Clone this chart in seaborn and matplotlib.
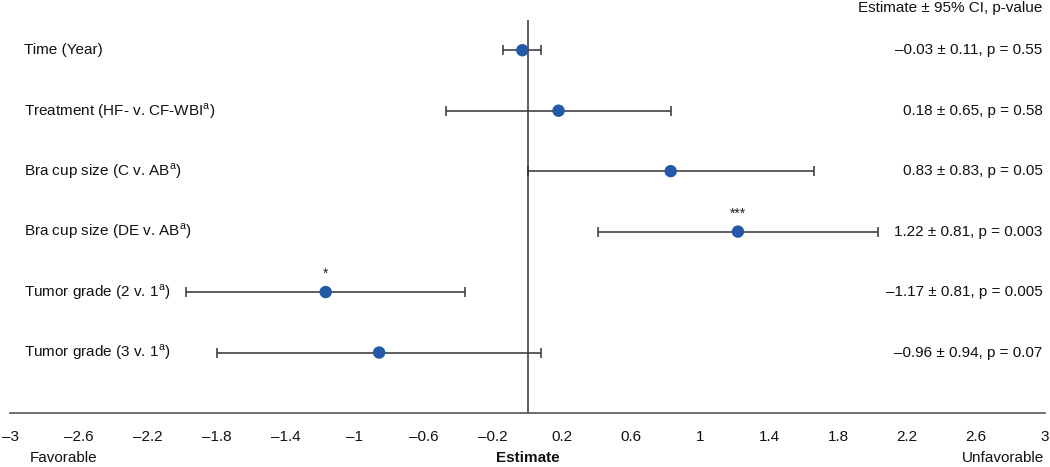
import numpy as np
import matplotlib
matplotlib.use("Agg")
import matplotlib.pyplot as plt
import matplotlib.transforms as mtransforms
import pandas as pd
import seaborn as sns

# row labels (top to bottom)
labels = [
    "Time (Year)",
    "Treatment (HF- v. CF-WBI$^\\mathregular{a}$)",
    "Bra cup size (C v. AB$^\\mathregular{a}$)",
    "Bra cup size (DE v. AB$^\\mathregular{a}$)",
    "Tumor grade (2 v. 1$^\\mathregular{a}$)",
    "Tumor grade (3 v. 1$^\\mathregular{a}$)",
]
# estimates and 95% CI half-widths as drawn
estimates = [-0.03, 0.18, 0.83, 1.22, -1.17, -0.86]
ci_half = [0.11, 0.65, 0.83, 0.81, 0.81, 0.94]
# right-hand annotation text
summary = [
    "–0.03 ± 0.11, p = 0.55",
    "0.18 ± 0.65, p = 0.58",
    "0.83 ± 0.83, p = 0.05",
    "1.22 ± 0.81, p = 0.003",
    "–1.17 ± 0.81, p = 0.005",
    "–0.96 ± 0.94, p = 0.07",
]
stars = ["", "", "", "***", "*", ""]
xticks = np.round(np.arange(-3, 3.01, 0.4), 1)

df = pd.DataFrame({"label": labels, "estimate": estimates, "ci": ci_half,
                   "row": np.arange(len(labels))})

sns.set_theme(style="white")
plt.rcParams["font.family"] = ["Liberation Sans", "DejaVu Sans"]
plt.rcParams["font.size"] = 11

fig = plt.figure(figsize=(10.5, 4.67), dpi=100)
ax = fig.add_axes([10 / 1050, 54 / 467, 1035 / 1050, 393 / 467])

dark = "#333333"
blue = "#2459a8"

ax.errorbar(df["estimate"], df["row"], xerr=df["ci"], fmt="none",
            ecolor=dark, elinewidth=1.1, capsize=3.5, capthick=1.1, zorder=2)
sns.scatterplot(data=df, x="estimate", y="row", ax=ax, color=blue, s=80,
                edgecolor="none", zorder=3, legend=False)
ax.axvline(0, color="#444444", lw=1.2, zorder=1)

for i, s in enumerate(stars):
    if s:
        ax.text(estimates[i], i - 0.3, s, ha="center", va="center", fontsize=10, color="#222222")

lt = mtransforms.blended_transform_factory(ax.transAxes, ax.transData)
for i, lab in enumerate(labels):
    ax.text(0.0135, i, lab, transform=lt, ha="left", va="center", fontsize=11, color="#111111")
    ax.text(0.9975, i, summary[i], transform=lt, ha="right", va="center", fontsize=11, color="#111111")

ax.set_xlim(-3, 3)
ax.set_ylim(6, -0.5)
ax.set_xticks(xticks)
ax.set_xticklabels([f"{v:g}".replace("-", "–") for v in xticks], fontsize=11, color="#111111")
ax.set_yticks([])
ax.set_xlabel("")
ax.set_ylabel("")
ax.tick_params(axis="x", length=0, pad=12)
for side in ["top", "left", "right"]:
    ax.spines[side].set_visible(False)
ax.spines["bottom"].set_color("#555555")
ax.spines["bottom"].set_linewidth(1.2)

fig.text(30 / 1050, 1 - 458 / 467, "Favorable", ha="left", va="center", fontsize=11, color="#111111")
fig.text(528 / 1050, 1 - 458 / 467, "Estimate", ha="center", va="center", fontsize=11,
         fontweight="bold", color="#111111")
fig.text(1044 / 1050, 1 - 458 / 467, "Unfavorable", ha="right", va="center", fontsize=11, color="#111111")
fig.text(1042 / 1050, 1 - 8 / 467, "Estimate ± 95% CI, p-value", ha="right", va="center",
         fontsize=11, color="#111111")

fig.savefig("out.png", dpi=100)
